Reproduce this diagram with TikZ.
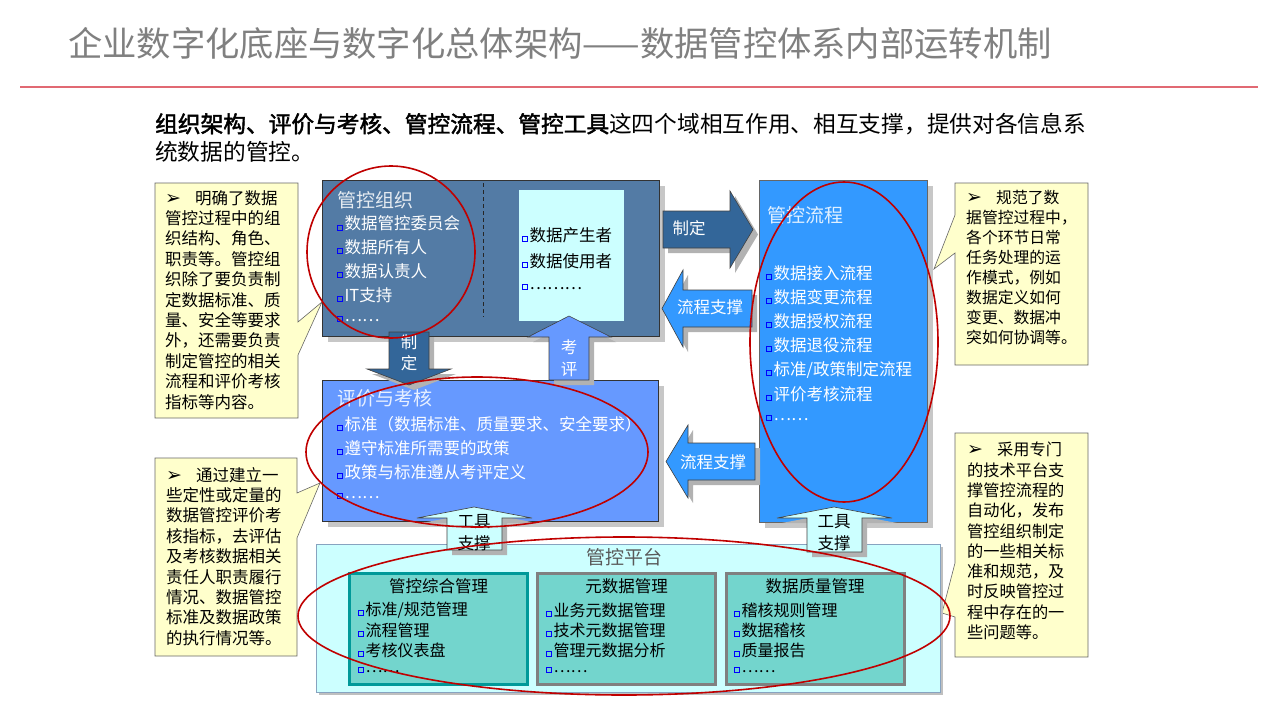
\documentclass[tikz,border=0pt]{standalone}
\usepackage{fontspec}
\setmainfont{Noto Sans CJK SC}[AutoFakeBold=2]
\newfontfamily\symfont{DejaVu Sans}
\usetikzlibrary{shadows}

\definecolor{orgblue}{RGB}{83,123,165}
\definecolor{evalblue}{RGB}{102,153,255}
\definecolor{flowblue}{RGB}{51,153,255}
\definecolor{darkblue}{RGB}{51,102,153}
\definecolor{lightcyan}{RGB}{204,255,255}
\definecolor{modcyan}{RGB}{115,213,205}
\definecolor{tealline}{RGB}{0,153,153}
\definecolor{noteyellow}{RGB}{255,255,204}
\definecolor{ringred}{RGB}{192,0,0}
\definecolor{titlegray}{RGB}{128,128,128}
\definecolor{rulered}{RGB}{225,105,115}

\newcommand\sq{\tikz[baseline=0pt]\draw[blue,line width=0.9pt] (0,0) rectangle (5pt,5pt);\hspace{1.5pt}}
\newcommand\tip{\makebox[30pt][l]{\symfont\fontsize{19}{19}\selectfont\char"27A2}}

\tikzset{
    every node/.style={inner sep=0pt}, % text sits exactly where it is placed
    note/.style={draw=black!60, fill=noteyellow, line width=0.6pt},
    notetext/.style={anchor=north west, align=left, font=\fontsize{16.5}{20.4}\selectfont},
    panel/.style={draw=black!80, line width=0.6pt,
        drop shadow={shadow xshift=6pt, shadow yshift=-6pt, fill=black!22, opacity=1}},
    head/.style={anchor=west, font=\fontsize{19}{20}\selectfont, text=white!85!orgblue},
    item/.style={anchor=west, font=\fontsize{16.5}{20}\selectfont, text=white},
    darkitem/.style={anchor=west, font=\fontsize{16.5}{20}\selectfont, text=black},
    module/.style={fill=modcyan, line width=3pt, minimum width=178, minimum height=111},
    modhead/.style={font=\fontsize{16.5}{20}\selectfont},
    moditem/.style={anchor=west, font=\fontsize{16}{20}\selectfont},
    blockarrow/.style={draw=black!75, line width=0.6pt,
        drop shadow={shadow xshift=5pt, shadow yshift=-5pt, fill=black!30, opacity=1}},
    arrowtext/.style={align=center, font=\fontsize{16.5}{21.5}\selectfont, text=white},
    ring/.style={draw=ringred, line width=1.6pt},
}

\begin{document}
\begin{tikzpicture}[x=1pt, y=-1pt]
\fill[white] (0,0) rectangle (1280,720);
\useasboundingbox (0,0) rectangle (1280,720);

% heading
\node[anchor=west, font=\fontsize{34.3}{36}\selectfont, text=titlegray] (title) at (68,43)
    {企业数字化底座与数字化总体架构——数据管控体系内部运转机制};
\draw[rulered, line width=1.5pt] (20,87) -- (1258,87);
\node[anchor=west, font=\fontsize{22.7}{28}\selectfont] (intro1) at (155,124)
    {\textbf{组织架构、评价与考核、管控流程、管控工具}这四个域相互作用、相互支撑，提供对各信息系};
\node[anchor=west, font=\fontsize{22.7}{28}\selectfont] (intro2) at (155,152) {统数据的管控。};

% callouts
\filldraw[note] (155,183) -- (298,183) -- (298,322) -- (322,302) -- (298,355) -- (298,418) -- (155,418) -- cycle;
\node[notetext] (note1) at (165,190) {\tip 明确了数据\\管控过程中的组\\织结构、角色、\\职责等。管控组\\织除了要负责制\\定数据标准、质\\量、安全等要求\\外，还需要负责\\制定管控的相关\\流程和评价考核\\指标等内容。};
\filldraw[note] (155,458) -- (297,458) -- (297,493) -- (320,483) -- (297,538) -- (297,656) -- (155,656) -- cycle;
\node[notetext] (note2) at (166,467) {\tip 通过建立一\\些定性或定量的\\数据管控评价考\\核指标，去评估\\及考核数据相关\\责任人职责履行\\情况、数据管控\\标准及数据政策\\的执行情况等。};
\filldraw[note] (955,183) -- (1088,183) -- (1088,365) -- (955,365) -- (955,253) -- (934,269) -- (955,215) -- cycle;
\node[notetext, font=\fontsize{15.8}{20}\selectfont] (note3) at (966,190) {\tip 规范了数\\据管控过程中，\\各个环节日常\\任务处理的运\\作模式，例如\\数据定义如何\\变更、数据冲\\突如何协调等。};
\filldraw[note] (955,433) -- (1088,433) -- (1088,657) -- (955,657) -- (955,617) -- (942,613) -- (955,563) -- cycle;
\node[notetext, font=\fontsize{16.2}{20.3}\selectfont] (note4) at (967,442) {\tip 采用专门\\的技术平台支\\撑管控流程的\\自动化，发布\\管控组织制定\\的一些相关标\\准和规范，及\\时反映管控过\\程中存在的一\\些问题等。};

% domains
\node[panel, fill=orgblue, minimum width=337, minimum height=156] (org) at (490.5,258) {};
\draw[black!85, line width=0.8pt, dash pattern=on 4pt off 3pt] (483,183) -- (483,317);
\node[fill=lightcyan, minimum width=105, minimum height=131] (role) at (571.5,255.5) {};
\node[panel, fill=evalblue, minimum width=336, minimum height=141] (eval) at (490,450.5) {};
\node[panel, fill=flowblue, draw=black!60, minimum width=168, minimum height=342] (flow) at (843,351) {};

\node[head] (orgT) at (337,200) {管控组织};
\foreach \t [count=\i] in {数据管控委员会,数据所有人,数据认责人,IT支持,……}
    \node[item] (org\i) at (337,200+23.7*\i) {\sq\t};
\foreach \t [count=\i] in {数据产生者,数据使用者,………}
    \node[darkitem] (role\i) at (522,210+25.5*\i) {\sq\t};
\node[head, text=white!85!evalblue] (evalT) at (337,398) {评价与考核};
\foreach \t [count=\i] in {标准（数据标准、质量要求、安全要求）,遵守标准所需要的政策,政策与标准遵从考评定义,……}
    \node[item] (eval\i) at (337,400+24*\i) {\sq\t};
\node[head, text=white!85!flowblue] (flowT) at (767,215) {管控流程};
\foreach \t [count=\i] in {数据接入流程,数据变更流程,数据授权流程,数据退役流程,标准/政策制定流程,评价考核流程,……}
    \node[item] (flow\i) at (766,248.8+24.2*\i) {\sq\t};

% platform
\node[fill=lightcyan, draw=orgblue!70, line width=0.6pt, minimum width=624, minimum height=148,
    drop shadow={shadow xshift=3pt, shadow yshift=-3pt, fill=black!25, opacity=1}] (plat) at (628,618) {};
\node[font=\fontsize{19}{20}\selectfont, text=black!65] (platT) at (624,557) {管控平台};
\node[module, draw=tealline] (mod1) at (438.5,629) {};
\node[module, draw=black!50] (mod2) at (626.5,629) {};
\node[module, draw=black!50] (mod3) at (815,629) {};
\node[modhead] (mod1T) at (438.5,586) {管控综合管理};
\node[modhead] (mod2T) at (626.5,586) {元数据管理};
\node[modhead] (mod3T) at (815,586) {数据质量管理};
\foreach \t [count=\i] in {标准/规范管理,流程管理,考核仪表盘,……}
    \node[moditem] (mod1\i) at (358,590+20*\i) {\sq\t};
\foreach \t [count=\i] in {业务元数据管理,技术元数据管理,管理元数据分析,……}
    \node[moditem] (mod2\i) at (546,590+20*\i) {\sq\t};
\foreach \t [count=\i] in {稽核规则管理,数据稽核,质量报告,……}
    \node[moditem] (mod3\i) at (734,590+20*\i) {\sq\t};

% block arrows
\filldraw[blockarrow, fill=darkblue] (663,211) -- (730,211) -- (730,191) -- (753,229.5) -- (730,268) -- (730,248) -- (663,248) -- cycle;
\node[arrowtext] (setR) at (689,228) {制定};
\filldraw[blockarrow, fill=flowblue] (752,290) -- (683,290) -- (683,270) -- (662,308.5) -- (683,347) -- (683,327) -- (752,327) -- cycle;
\node[arrowtext] (flowUp) at (710,307) {流程支撑};
\filldraw[blockarrow, fill=flowblue] (755,443) -- (688,443) -- (688,425) -- (666,461.5) -- (688,498) -- (688,480) -- (755,480) -- cycle;
\node[arrowtext] (flowLow) at (713,462) {流程支撑};
\filldraw[blockarrow, fill=darkblue] (389,332) -- (429,332) -- (429,369) -- (451,369) -- (409,385) -- (367,369) -- (389,369) -- cycle;
\node[arrowtext] (setD) at (409,353) {制\\定};
\filldraw[blockarrow, fill=evalblue] (549,380) -- (549,337) -- (528,337) -- (569,316) -- (611,337) -- (589,337) -- (589,380) -- cycle;
\node[arrowtext] (review) at (569,358) {考\\评};
\filldraw[blockarrow, fill=lightcyan] (447,550) -- (447,518) -- (417,518) -- (474,507) -- (532,518) -- (502,518) -- (502,550) -- cycle;
\node[arrowtext, text=black] (toolL) at (474,532.5) {工具\\支撑};
\filldraw[blockarrow, fill=lightcyan] (807,552) -- (807,518) -- (777,518) -- (834,507) -- (892,518) -- (862,518) -- (862,552) -- cycle;
\node[arrowtext, text=black] (toolR) at (834,532.5) {工具\\支撑};

% red highlight rings
\draw[ring] (391,252) ellipse [x radius=84pt, y radius=86pt];
\draw[ring] (477,452) ellipse [x radius=171pt, y radius=75pt];
\draw[ring] (844,342) ellipse [x radius=94pt, y radius=160pt];
\draw[ring] (624,616) ellipse [x radius=326pt, y radius=79pt];
\end{tikzpicture}
\end{document}
